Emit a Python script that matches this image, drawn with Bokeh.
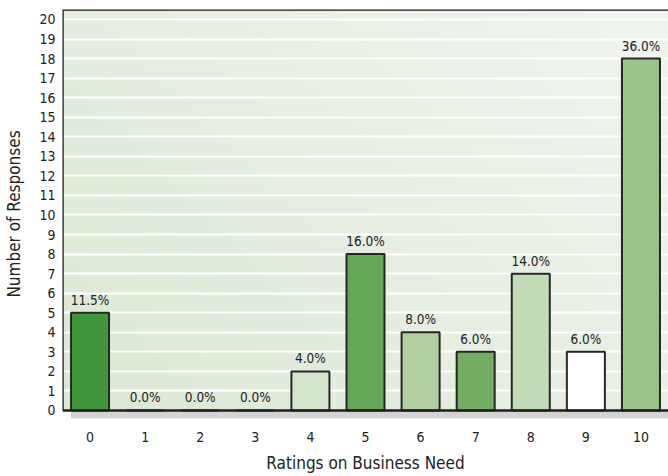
import numpy as np
from bokeh.plotting import figure
from bokeh.models import FixedTicker, ColumnDataSource, Range1d
from bokeh.core.properties import value
from bokeh.embed import file_html
from bokeh.resources import INLINE

ratings = [0, 1, 2, 3, 4, 5, 6, 7, 8, 9, 10]
responses = [5, 0, 0, 0, 2, 8, 4, 3, 7, 3, 18]
percent_labels = ["11.5%", "0.0%", "0.0%", "0.0%", "4.0%", "16.0%", "8.0%", "6.0%", "14.0%", "6.0%", "36.0%"]
bar_colors = ["#3f963b", "#3f963b", "#3f963b", "#3f963b", "#d3e6cc", "#65a755",
              "#b0d0a2", "#73ad62", "#c2dbb7", "#ffffff", "#9bc38a"]
y_ticks = list(range(0, 21))

FONT = "'DejaVu Sans Condensed', 'Liberation Sans Narrow', Roboto, sans-serif"
BAR_W = 0.69
Y_TOP = 20.51
Y_BOT = -0.41

p = figure(width=668, height=476, output_backend="svg", toolbar_location=None,
           x_range=Range1d(-0.5, 10.5), y_range=Range1d(Y_BOT, Y_TOP),
           min_border_left=62, min_border_right=0, min_border_top=9, min_border_bottom=58)
p.background_fill_color = "#e7f0e3"
p.border_fill_color = "white"
p.outline_line_color = None

# diagonal background gradient (decorative)
h, w = 60, 100
yy, xx = np.mgrid[0:h, 0:w]
t = (xx / (w - 1) * 0.6 + yy / (h - 1) * 0.4)  # 0 at bottom-left, 1 at top-right
c0 = np.array([0xdc, 0xe9, 0xd5])
c1 = np.array([0xf1, 0xf5, 0xef])
rgb = (c0[None, None, :] * (1 - t[..., None]) + c1[None, None, :] * t[..., None]).astype(np.uint32)
img = (255 << 24) | (rgb[..., 2] << 16) | (rgb[..., 1] << 8) | rgb[..., 0]
p.image_rgba(image=[img.astype(np.uint32)], x=-0.5, y=0, dw=11, dh=Y_TOP, level="image")

# grid
p.xgrid.grid_line_color = None
p.ygrid.grid_line_color = "white"
p.ygrid.grid_line_width = 2
p.ygrid.ticker = FixedTicker(ticks=y_ticks[1:])

# floor band below the baseline
p.quad(left=[-0.5], right=[-BAR_W / 2], bottom=[Y_BOT], top=[0], fill_color="white", line_color=None)
p.quad(left=[-BAR_W / 2], right=[10.5], bottom=[Y_BOT], top=[0], fill_color="#d3d3d3", line_color=None)

src = ColumnDataSource(dict(x=ratings, top=responses, color=bar_colors, label=percent_labels))
p.vbar(x="x", top="top", width=BAR_W, bottom=0, source=src, fill_color="color",
       line_color="#262626", line_width=2)
p.text(x="x", y="top", text="label", source=src, text_align="center", text_baseline="bottom",
       y_offset=-5, text_font=value(FONT), text_font_size="13.5px", text_color="#222222")

# frame lines: left axis, baseline, top border
p.segment(x0=[-0.5, -0.5, -0.5], y0=[0, 0, Y_TOP], x1=[-0.5, 10.5, 10.5], y1=[Y_TOP, 0, Y_TOP],
          line_color="#1e1e1e", line_width=2.5)

p.xaxis.ticker = FixedTicker(ticks=ratings)
p.yaxis.ticker = FixedTicker(ticks=y_ticks)
for ax in (p.xaxis[0], p.yaxis[0]):
    ax.axis_line_color = None
    ax.major_tick_line_color = None
    ax.minor_tick_line_color = None
    ax.major_tick_out = 0
    ax.major_tick_in = 0
    ax.minor_tick_out = 0
    ax.major_label_text_font = FONT
    ax.major_label_text_font_size = "14px"
    ax.major_label_text_color = "#222222"
    ax.axis_label_text_font = FONT
    ax.axis_label_text_font_size = "17px"
    ax.axis_label_text_font_style = "normal"
    ax.axis_label_text_color = "#222222"

p.xaxis.axis_label = "Ratings on Business Need"
p.yaxis.axis_label = "Number of Responses"
p.xaxis.major_label_standoff = 13
p.xaxis.axis_label_standoff = 8
p.yaxis.major_label_standoff = 7
p.yaxis.axis_label_standoff = 12

open("out.html", "w").write(file_html(p, INLINE))
